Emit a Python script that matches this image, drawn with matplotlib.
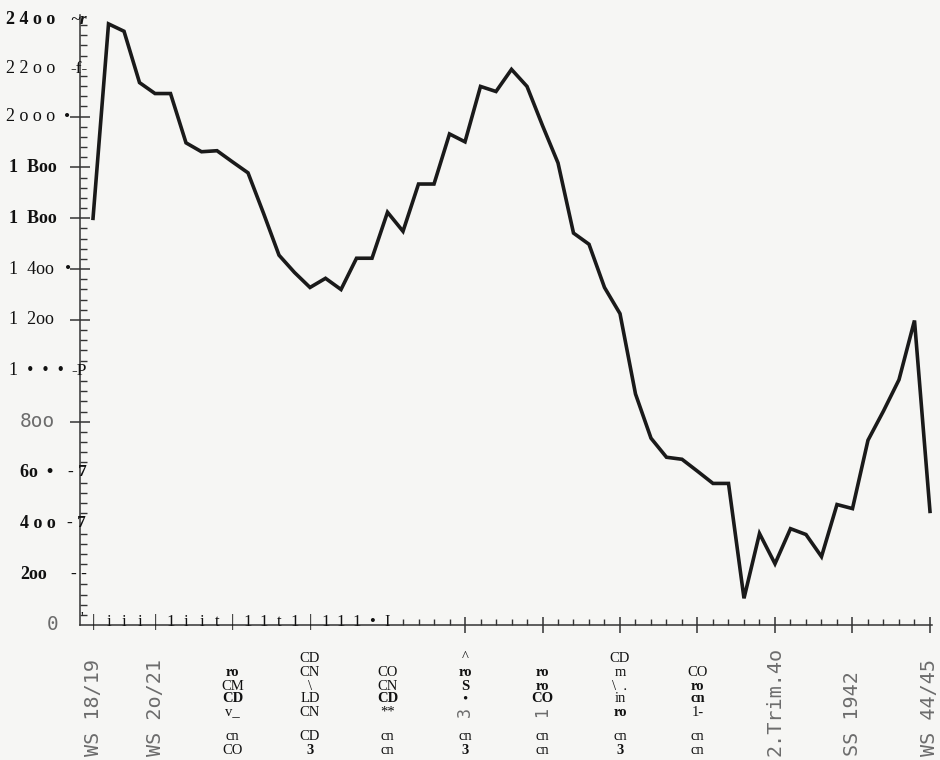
"""
Scanned chart: students per semester, WS 1918/19 to WS 1944/45.
Recreated including the OCR text layer that sits on top of the scan.
"""

import matplotlib.pyplot as plt
from matplotlib.transforms import blended_transform_factory

W, H = 940, 760

# one point per semester, index 0 = WS 18/19
semester = list(range(55))
students = [
    1600, 2365, 2336, 2134, 2091, 2091, 1897, 1862, 1866, 1822,
    1779, 1620, 1455, 1387, 1328, 1364, 1320, 1443, 1443, 1624,
    1549, 1735, 1735, 1932, 1901, 2119, 2099, 2186, 2119, 1965,
    1818, 1542, 1498, 1328, 1225, 909, 735, 660, 652, 605,
    557, 557, 105, 360, 241, 379, 356, 269, 474, 458,
    727, 842, 965, 1198, 447,
]

# x labels still readable in the print
print_label_pos = [0, 4, 44, 49, 54]
print_labels = ["WS 18/19", "WS 2o/21", "2.Trim.4o", "SS 1942", "WS 44/45"]

# x labels that came out of OCR as stacked fragments
ocr_label_pos = [9, 14, 19, 24, 29, 34, 39]
ocr_columns = [
    ["", "ro", "CM", "CD", "v_", "cn", "CO"],
    ["CD", "CN", "\\", "LD", "CN", "CD", "3"],
    ["", "CO", "CN", "CD", "**", "cn", "cn"],
    ["^", "ro", "S", "•", "3", "cn", "3"],
    ["", "ro", "ro", "CO", "1", "cn", "cn"],
    ["CD", "m", "\\  .", "in", "ro", "cn", "3"],
    ["", "CO", "ro", "cn", "1-", "cn", "cn"],
]
ocr_bold = [{1, 3}, {6}, {3}, {1, 2, 6}, {1, 2, 3}, {4, 6}, {2, 3}]
ocr_print_bits = {(3, 4), (4, 4)}  # pieces of the rotated print showing through
ocr_row_y = [658, 672, 686, 699, 712, 736, 750]

# OCR characters that replaced the first x ticks
tick_ocr = ["|", "i", "i", "i", "|", "1", "i", "i", "t", "|",
            "1", "1", "t", "1", "|", "1", "1", "1", "•", "I"]

# y labels
y_label_vals = [2400, 2200, 2000, 1800, 1600, 1400, 1200, 1000, 800, 600, 400, 200, 0]
y_label_text = ["2 4 o o", "2 2 o o", "2 o o o", "1  Boo", "1  Boo", "1  4oo", "1  2oo",
                "1  •  •  •", "8oo", "6o  •", "4 o o", "2oo", "0"]
y_label_marks = ["~r", "-f-", "•", "", "", "•", "", "-P", "", "- 7", "- 7", "- -", ""]

y_label_x = [6, 6, 6, 9, 9, 9, 9, 9, 20, 20, 20, 20, 47]
y_label_dy = [-5, -3, 0, 0, 0, 0, 0, 0, 0, 0, 0, 0, 0]  # px nudges seen on the scan
y_label_bold = [True, False, False, True, True, False, False, False, False, True, True, True, False]
y_label_print = [False] * 8 + [True, False, False, False, True]
y_mark_x = [70, 70, 64, 0, 0, 65, 0, 71, 0, 68, 67, 71, 0]

SERIF = "Liberation Serif"
MONO = "DejaVu Sans Mono"
PRINT_GREY = "#6c6c6c"
INK = "#1a1a1a"

fig = plt.figure(figsize=(W / 100, H / 100), dpi=100)
fig.patch.set_facecolor("#f6f6f4")

ax_left, ax_right, ax_top, ax_bottom = 80, 932, 15, 625
ax = fig.add_axes([ax_left / W, 1 - ax_bottom / H, (ax_right - ax_left) / W, (ax_bottom - ax_top) / H])
ax.set_facecolor("none")
ax.set_xlim(-0.84, 54.13)
ax.set_ylim(0, 2400)

for side in ("top", "right"):
    ax.spines[side].set_visible(False)
for side in ("left", "bottom"):
    ax.spines[side].set_color("#333333")
    ax.spines[side].set_linewidth(1.1)

major_x = [24, 29, 34, 39, 44, 49, 54]
ax.set_xticks(major_x)
ax.set_xticks([i for i in range(20, 54) if i not in major_x], minor=True)
ax.tick_params(axis="x", which="major", direction="inout", length=12, width=1.1,
               color="#333333", labelbottom=False)
ax.tick_params(axis="x", which="minor", direction="in", length=4.5, width=1.0,
               color="#333333")

major_y = [800, 1200, 1400, 1600, 1800, 2000]
ax.set_yticks(major_y)
ax.set_yticks([v for v in range(40, 2400, 40) if v % 200], minor=True)
ax.tick_params(axis="y", which="major", direction="inout", length=15, width=1.1,
               color="#333333", labelleft=False)
ax.tick_params(axis="y", which="minor", direction="in", length=5, width=1.0,
               color="#333333")

ax.plot(semester, students, color=INK, lw=2.6, solid_joinstyle="miter", clip_on=False, zorder=3)

yblend = blended_transform_factory(fig.transFigure, ax.transData)
xblend = blended_transform_factory(ax.transData, fig.transFigure)
px_per_unit = (ax_bottom - ax_top) / 2400

# y labels
for val, text, x, dy, bold, is_print, mark, mx in zip(
        y_label_vals, y_label_text, y_label_x, y_label_dy, y_label_bold, y_label_print,
        y_label_marks, y_mark_x):
    y = val + dy / px_per_unit
    if is_print:
        ax.text(x / W, y, text, transform=yblend, ha="left", va="center",
                family=MONO, fontsize=14, color=PRINT_GREY)
    else:
        ax.text(x / W, y, text, transform=yblend, ha="left", va="center",
                family=SERIF, fontsize=13, color="#111111",
                weight="bold" if bold else "normal")
    if mark:
        ax.text(mx / W, y, mark, transform=yblend, ha="left", va="center",
                family=SERIF, fontsize=12.5, color="#111111",
                weight="bold" if mark in ("~r", "- 7", "- -") else "normal",
                style="italic" if mark == "~r" else "normal")

# OCR characters on the x axis
ax.text(-0.7, 0, "'", transform=ax.transData, ha="center", va="bottom",
        family=SERIF, fontsize=11, color="#111111")
for i, ch in enumerate(tick_ocr):
    ax.text(i, 1 - 626.5 / H, ch, transform=xblend, ha="center", va="baseline",
            family=SERIF, fontsize=12, color="#111111")

# readable rotated x labels
for pos, text in zip(print_label_pos, print_labels):
    ax.text(pos, 1 - 756 / H, text, transform=xblend, rotation=90, ha="center", va="bottom",
            family=MONO, fontsize=14.5, color=PRINT_GREY)

# OCR fragments under the x axis
for c, (pos, rows) in enumerate(zip(ocr_label_pos, ocr_columns)):
    for r, (frag, y) in enumerate(zip(rows, ocr_row_y)):
        if not frag:
            continue
        if (c, r) in ocr_print_bits:
            ax.text(pos, 1 - y / H, frag, transform=xblend, rotation=90, ha="center", va="center",
                    family=MONO, fontsize=12, color=PRINT_GREY)
        else:
            ax.text(pos, 1 - y / H, frag, transform=xblend, ha="center", va="center",
                    family=SERIF, fontsize=10.5, color="#111111",
                    weight="bold" if r in ocr_bold[c] else "normal")

fig.savefig("out.png", dpi=100, facecolor=fig.get_facecolor())
